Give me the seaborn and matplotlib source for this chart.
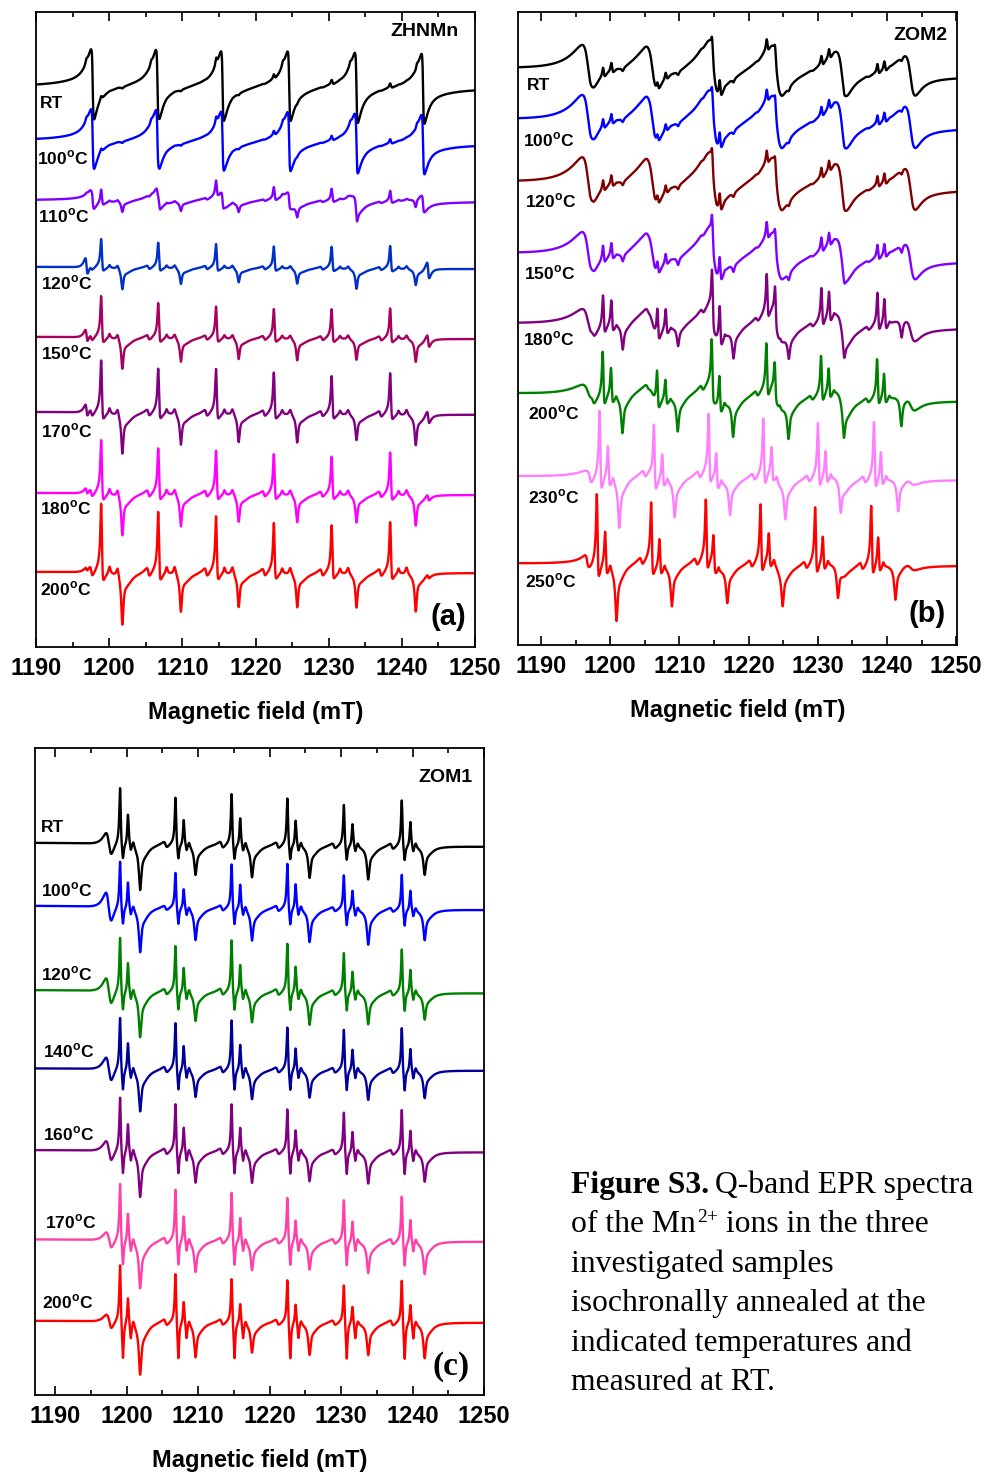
import numpy as np
import matplotlib
matplotlib.use('Agg')
import matplotlib.pyplot as plt
import seaborn as sns

sns.set_style('ticks')
plt.rcParams['font.family'] = ['Liberation Sans', 'DejaVu Sans']
plt.rcParams['font.weight'] = 'bold'
plt.rcParams['text.color'] = 'black'
plt.rcParams['axes.labelcolor'] = 'black'
plt.rcParams['xtick.color'] = 'black'
plt.rcParams['ytick.color'] = 'black'
plt.rcParams['mathtext.fontset'] = 'custom'
plt.rcParams['mathtext.rm'] = 'Liberation Serif'
plt.rcParams['mathtext.bf'] = 'Liberation Sans:bold'

# ---------------- data ----------------
field_ticks = [1190, 1200, 1210, 1220, 1230, 1240, 1250]

# panel (a) ZHNMn
a_temps = ['RT', '100', '110', '120', '150', '170', '180', '200']
a_colors = ['#000000', '#0000FF', '#8000FF', '#0030C8', '#A8005E', '#800080', '#FF00FF', '#FF0000']
a_broad_pos = [1197.75, 1206.6, 1215.5, 1224.6, 1233.8, 1242.9]
a_spike_pos = [1198.9, 1206.7, 1214.6, 1222.5, 1230.4, 1238.4]
a_dip_pos = [1201.8, 1209.8, 1217.7, 1225.7, 1233.8, 1241.9]
a_outer_pos = [1196.7, 1243.4]
a_broad_amp = [40, 34, 10, 0, 0, 0, 0, 0]
a_outer_amp = [0, 0, 0, 8, 6, 6, 3, 2]
a_spike_h = [[3, 3, 3, 4, 4, 4],
             [3, 3, 3, 4, 4, 4],
             [13, 11, 13, 11, 11, 10],
             [26, 23, 22, 20, 20, 21],
             [38, 32, 29, 27, 27, 28],
             [48, 41, 41, 38, 35, 38],
             [49, 42, 40, 37, 35, 39],
             [63, 56, 52, 46, 44, 47]]
a_dip_d = [[2, 2, 2, 2, 2, 2],
           [2, 2, 2, 2, 2, 2],
           [12, 10, 10, 13, 16, 11],
           [23, 17, 15, 16, 21, 17],
           [33, 25, 22, 23, 22, 24],
           [43, 33, 30, 30, 27, 32],
           [44, 34, 29, 29, 29, 32],
           [55, 41, 36, 36, 36, 40]]
a_drift = [3, 5, 2, 2.3, 2.3, 3, 2.3, 1.3]

# panel (b) ZOM2
b_temps = ['RT', '100', '120', '150', '180', '200', '230', '250']
b_colors = ['#000000', '#0000FF', '#800000', '#8000FF', '#800080', '#008000', '#FF80FF', '#FF0000']
b_broad_pos = [1196.8, 1206.1, 1215.0, 1224.1, 1233.5, 1243.4]
b_broad_scale = [1.0, 1.0, 1.25, 1.15, 1.0, 0.95]
b_spike_pos = [1198.05, 1205.9, 1213.8, 1221.7, 1229.6, 1237.7]
b_gap = [1.2, 1.2, 1.1, 1.2, 1.1, 1.0]
b_dip_pos = [1200.9, 1208.9, 1216.9, 1224.9, 1232.9, 1241.2]
b_shift = [0.9, 0.9, 0.9, 0.9, 0.9, 0.85, 0.4, 0.0]
b_broad_amp = [23, 24, 24, 21, 14, 9, 4, 4]
b_ratio = [1.0, 1.0, 1.0, 0.9, 0.8, 0.65, 0.5, 0.5]
b_spike_h = [[8, 6, 14, 10, 8, 8],
             [8, 6, 14, 10, 8, 8],
             [9, 7, 15, 11, 9, 9],
             [14, 10, 22, 14, 12, 12],
             [30, 25, 40, 35, 30, 30],
             [42, 30, 45, 42, 36, 36],
             [62, 50, 54, 52, 50, 52],
             [66, 55, 55, 53, 52, 54]]
b_dip_d = [[5, 5, 5, 5, 5, 5],
           [5, 5, 5, 5, 5, 5],
           [6, 6, 6, 6, 6, 6],
           [10, 10, 10, 10, 10, 10],
           [28, 22, 30, 25, 22, 22],
           [40, 36, 38, 36, 34, 34],
           [52, 40, 36, 38, 36, 35],
           [58, 42, 37, 38, 37, 37]]
b_drift = [8.4, 9, 8.3, 8.4, 5, 7.7, 4, 2.4]

# panel (c) ZOM1
c_temps = ['RT', '100', '120', '140', '160', '170', '200']
c_colors = ['#000000', '#0000FF', '#008000', '#000099', '#800080', '#FF40A8', '#FF0000']
c_spike_pos = [1199.1, 1206.85, 1214.7, 1222.5, 1230.4, 1238.5]
c_gap = [1.1, 1.15, 1.2, 1.15, 1.2, 1.2]
c_dip_pos = [1201.9, 1209.65, 1217.55, 1225.6, 1233.8, 1241.7]
c_outer_pos = 1197.45
c_outer_amp = [8, 12, 10, 9, 7, 5, 4]
c_post = [14, 16, 18, 20, 22, 24, 36]
c_ratio = [0.6, 0.62, 0.6, 0.58, 0.58, 0.55, 0.5]
c_spike_h = [[59, 49, 53, 49, 43, 48],
             [49, 37, 46, 47, 36, 37],
             [57, 48, 54, 51, 42, 46],
             [55, 49, 52, 45, 43, 45],
             [57, 50, 50, 45, 42, 45],
             [60, 54, 51, 46, 44, 48],
             [61, 52, 47, 46, 41, 46]]
c_dip_d = [[47, 31, 33, 33, 34, 29],
           [46, 33, 33, 34, 36, 31],
           [47, 30, 31, 33, 32, 27],
           [43, 28, 30, 28, 30, 28],
           [47, 32, 32, 30, 32, 30],
           [49, 32, 30, 29, 32, 33],
           [54, 36, 31, 33, 33, 36]]
c_drift = [4, 4.3, 3.3, 2.4, 2.3, 2.4, 2]

# ---------------- layout (pixels) ----------------
W, H = 987, 1475
a_box = (36, 12, 475, 647)      # left, top, right, bottom
b_box = (518, 12, 957, 645)
c_box = (35, 748, 484, 1395)
a_xlim = (1190.0, 1250.0)
b_xlim = (1186.67, 1250.1)
c_xlim = (1187.2, 1250.0)
a_base = [86, 140, 200, 266.7, 336.7, 411.7, 492.7, 571.7]
b_base = [68.3, 119.3, 181.7, 253.3, 323.3, 393.3, 476, 563.3]
c_base = [842.7, 905.7, 990, 1068.3, 1150, 1239.3, 1320.7]
a_lab_xy = [(40, 104), (37, 158), (38, 216), (41, 283), (41, 353), (41, 431), (40, 508), (40, 589)]
b_lab_xy = [(527, 85), (523, 140), (525, 201), (524, 273), (523, 339), (528, 413), (528, 497), (525, 581)]
c_lab_xy = [(41, 827), (41, 890), (41, 974), (43, 1051), (43, 1134), (45, 1222), (42, 1302)]

Bf = np.linspace(1186.0, 1251.0, 7000)


def lor(c, w):
    return 1.0 / (1.0 + ((Bf - c) / w) ** 2)


def saw(c, r, wl, wr):
    x = Bf - c
    s = np.sqrt(x * x + r * r)
    w = np.where(x < 0, wl, wr)
    y = -x / s * np.exp(-(s - r) / w)
    return y / np.abs(y).max()


def spec_a(i):
    y = np.zeros_like(Bf)
    A = a_broad_amp[i]
    for c in a_broad_pos:
        y += A * (0.8 * saw(c, 0.1, 0.7, 0.55) + 0.22 * saw(c, 0.6, 3.5, 3.0))
        y += 0.1 * A * lor(c - 0.85, 0.15)
    for k in range(6):
        s, d = a_spike_pos[k], a_dip_pos[k]
        h, dd = a_spike_h[i][k], a_dip_d[i][k]
        y += h * (0.85 * lor(s, 0.12) + 0.25 * saw(s + 0.15, 0.08, 0.5, 0.3))
        y += h * (0.12 * lor(s + 1.15, 0.15) + 0.16 * lor(s + 2.25, 0.2))
        y += h * 0.08 * saw(s - 1.35, 0.15, 0.5, 0.4)
        y -= dd * (0.82 * lor(d, 0.17) + 0.22 * lor(d + 0.6, 0.9))
    for p in a_outer_pos:
        y += a_outer_amp[i] * saw(p + 0.2, 0.12, 0.3, 0.3)
    return y


def spec_b(i):
    y = np.zeros_like(Bf)
    A = b_broad_amp[i]
    for k, c in enumerate(b_broad_pos):
        y += A * b_broad_scale[k] * (0.75 * saw(c, 0.6, 1.6, 0.8) + 0.3 * saw(c, 0.9, 4.0, 3.5))
    sh = b_shift[i]
    for k in range(6):
        s1 = b_spike_pos[k] + sh
        s2 = s1 + b_gap[k]
        d = b_dip_pos[k] + sh
        h1 = b_spike_h[i][k]
        h2 = h1 * b_ratio[i]
        dd = b_dip_d[i][k]
        for s, h in ((s1, h1), (s2, h2)):
            y += h * (0.8 * lor(s, 0.12) + 0.3 * saw(s + 0.15, 0.08, 0.45, 0.3))
        y += 0.1 * h1 * lor(s2 + 0.75, 0.15)
        y += 0.07 * h1 * saw(s1 - 1.4, 0.2, 0.5, 0.4)
        y -= dd * (0.8 * lor(d, 0.2) + 0.25 * lor(d + 0.5, 0.9))
    return y


def spec_c(i):
    y = np.zeros_like(Bf)
    y += c_outer_amp[i] * saw(c_outer_pos, 0.35, 0.5, 0.5)
    for k in range(6):
        s1 = c_spike_pos[k]
        s2 = s1 + c_gap[k]
        d = c_dip_pos[k]
        h1 = c_spike_h[i][k]
        h2 = h1 * c_ratio[i]
        dd = c_dip_d[i][k]
        p = c_post[i]
        y += h1 * 0.9 * lor(s1, 0.12) + 0.1 * h1 * saw(s1 + 0.1, 0.1, 0.5, 0.3)
        y -= p * lor(s1 + 0.4, 0.12)
        y += h2 * 0.9 * lor(s2, 0.12)
        y -= 0.45 * p * lor(s2 + 0.4, 0.12)
        y += 0.1 * h1 * lor(s2 + 0.75, 0.15)
        y += 0.06 * h1 * saw(s1 - 1.4, 0.2, 0.5, 0.4)
        y -= dd * (0.8 * lor(d, 0.2) + 0.25 * lor(d + 0.5, 0.9))
    return y


fig = plt.figure(figsize=(W / 100, H / 100), dpi=100)


def make_ax(box):
    l, t, r, b = box
    return fig.add_axes([l / W, 1 - b / H, (r - l) / W, (b - t) / H])


def style(ax, box, xlim):
    l, t, r, b = box
    ax.set_xlim(*xlim)
    ax.set_ylim(0, b - t)
    ax.set_xticks(field_ticks)
    ax.set_xticks([1195, 1205, 1215, 1225, 1235, 1245], minor=True)
    ax.set_yticks([])
    ax.tick_params(axis='x', which='both', direction='in', top=True, bottom=True,
                   width=1.2, labelsize=17, pad=7, colors='black')
    ax.tick_params(axis='x', which='major', length=6.5)
    ax.tick_params(axis='x', which='minor', length=3.5)
    for sp in ax.spines.values():
        sp.set_visible(True)
        sp.set_linewidth(1.3)
        sp.set_color('black')
    ax.set_xlabel('Magnetic field (mT)', fontsize=17, fontweight='bold', labelpad=15, color='black')
    ax.set_ylabel('')


def ftext(px, py, s, **kw):
    return fig.text(px / W, 1 - py / H, s, **kw)


def lab(t):
    return 'RT' if t == 'RT' else t + r'$^{\mathbf{o}}$C'


def draw(ax, box, spec, n, base, drift, colors):
    l, t, r, b = box
    x0, x1 = Bf[0], Bf[-1]
    for i in range(n):
        y = (b - base[i]) + spec(i) - drift[i] * (Bf - x0) / (x1 - x0)
        sns.lineplot(x=Bf, y=y, color=colors[i], lw=1.7, ax=ax, estimator=None, sort=False)


ax_a = make_ax(a_box)
draw(ax_a, a_box, spec_a, len(a_temps), a_base, a_drift, a_colors)
style(ax_a, a_box, a_xlim)

ax_b = make_ax(b_box)
draw(ax_b, b_box, spec_b, len(b_temps), b_base, b_drift, b_colors)
style(ax_b, b_box, b_xlim)

ax_c = make_ax(c_box)
draw(ax_c, c_box, spec_c, len(c_temps), c_base, c_drift, c_colors)
style(ax_c, c_box, c_xlim)

for temps, xy in ((a_temps, a_lab_xy), (b_temps, b_lab_xy), (c_temps, c_lab_xy)):
    for t, (px, py) in zip(temps, xy):
        ftext(px, py, lab(t), fontsize=12.5, fontweight='bold', ha='left', va='center', color='black')

ftext(459, 31, 'ZHNMn', fontsize=14, fontweight='bold', ha='right', va='center')
ftext(947, 35, 'ZOM2', fontsize=14, fontweight='bold', ha='right', va='center')
ftext(473, 777, 'ZOM1', fontsize=14, fontweight='bold', ha='right', va='center')
ftext(448, 617, '(a)', fontsize=21, fontweight='bold', ha='center', va='center')
ftext(927, 614, '(b)', fontsize=21, fontweight='bold', ha='center', va='center')
ftext(451, 1367, '(c)', fontsize=24, fontweight='bold', ha='center', va='center',
      family=['Liberation Serif', 'DejaVu Serif'])

# caption
serif = ['Liberation Serif', 'DejaVu Serif']
cap_x = 571
cap_base = [1193, 1232.5, 1272, 1311, 1351, 1390]
cap_size = 22.8
rend = fig.canvas.get_renderer()


def run(px, py, s, **kw):
    t = ftext(px, py, s, family=serif, ha='left', va='baseline', color='black', **kw)
    return t.get_window_extent(renderer=rend).x1


x1 = run(cap_x, cap_base[0], 'Figure S3.', fontsize=cap_size, fontweight='bold')
run(x1 + 6, cap_base[0], 'Q-band EPR spectra', fontsize=cap_size, fontweight='normal')
x1 = run(cap_x, cap_base[1], 'of the Mn', fontsize=cap_size, fontweight='normal')
x1 = run(x1 + 1, cap_base[1] - 11, '2+', fontsize=14, fontweight='normal')
run(x1, cap_base[1], ' ions in the three', fontsize=cap_size, fontweight='normal')
for s, yb in zip(['investigated samples', 'isochronally annealed at the',
                  'indicated temperatures and', 'measured at RT.'], cap_base[2:]):
    run(cap_x, yb, s, fontsize=cap_size, fontweight='normal')

fig.savefig('out.png', dpi=100)
